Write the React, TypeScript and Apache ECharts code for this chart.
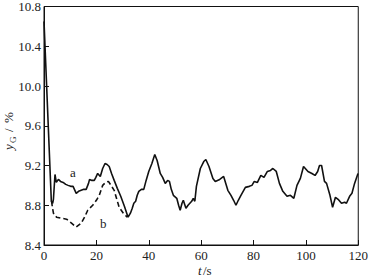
import React, { useEffect, useRef } from "react";
import * as echarts from "echarts";

const xTicks = [0, 20, 40, 60, 80, 100, 120];
const yTicks = [8.4, 8.8, 9.2, 9.6, 10.0, 10.4, 10.8];

const aTime = [0, 2.8, 3.3, 3.6, 4.2, 4.7, 5.5, 6.3, 7.3, 8.3, 9.2, 10.2, 11.1, 12.3, 13.2, 14.2, 15.2, 16.1, 17.0, 17.4, 18.3, 19.2, 19.8, 20.5, 21.5, 22.4, 23.3, 24.1, 24.9, 25.8, 26.8, 28, 29.3, 30.7, 32.1, 33, 33.7, 34.3, 35, 35.6, 36.2, 37.2, 38.1, 39, 40, 41.2, 42.3, 43.2, 44.4, 45.3, 46.3, 47.2, 47.9, 48.6, 49.4, 50.7, 51.4, 52, 52.7, 53.2, 54.2, 55, 55.7, 56.4, 57, 57.6, 58.2, 59.7, 61, 61.8, 63, 64.5, 65.4, 67.1, 68.6, 70.2, 71.4, 72.4, 73.3, 74.2, 75.2, 76.9, 78.4, 79.4, 80.3, 81.5, 82.8, 84, 85.3, 86.5, 87.4, 88.7, 89.9, 91.2, 92.8, 94.1, 95.4, 96.6, 97.9, 99.1, 100.8, 102.3, 103.5, 104.5, 105.2, 106, 107.1, 107.9, 109.2, 110.2, 111.3, 112.3, 113.6, 114.8, 115.5, 116.7, 117.6, 118.6, 119.9];
const aValue = [10.65, 8.84, 8.82, 8.86, 9.11, 9.03, 9.06, 9.04, 9.03, 9.01, 9.0, 8.99, 8.99, 8.92, 8.94, 8.95, 8.96, 8.96, 9.02, 9.06, 9.05, 9.05, 9.08, 9.12, 9.09, 9.17, 9.22, 9.21, 9.19, 9.12, 9.05, 8.97, 8.89, 8.79, 8.68, 8.72, 8.77, 8.82, 8.84, 8.9, 8.94, 8.96, 8.96, 9.05, 9.14, 9.22, 9.31, 9.25, 9.12, 9.08, 9.02, 9.05, 9.04, 8.96, 8.9, 8.87, 8.8, 8.75, 8.82, 8.85, 8.77, 8.8, 8.82, 8.84, 8.87, 8.84, 8.99, 9.17, 9.24, 9.26, 9.19, 9.07, 9.04, 9.06, 9.09, 8.95, 8.9, 8.85, 8.8, 8.85, 8.9, 8.98, 8.99, 9.0, 9.04, 9.03, 9.1, 9.08, 9.14, 9.15, 9.17, 9.14, 9.02, 8.94, 8.89, 8.9, 8.87, 9.0, 9.07, 9.19, 9.14, 9.12, 9.1, 9.14, 9.2, 9.2, 9.04, 9.02, 8.9, 8.78, 8.88, 8.86, 8.82, 8.83, 8.82, 8.89, 8.92, 9.02, 9.12];

const bTime = [2.9, 3.2, 3.6, 4.8, 6.5, 8.6, 10.5, 12.3, 14.2, 15.5, 16.7, 18.6, 20, 21.1, 22.4, 23.5, 24.6, 25.6, 26.8, 27.8, 28.7, 30.3, 31.8];
const bValue = [8.84, 8.78, 8.72, 8.68, 8.67, 8.66, 8.62, 8.58, 8.62, 8.68, 8.75, 8.8, 8.85, 8.9, 9.0, 9.03, 9.04, 9.0, 8.95, 8.86, 8.78, 8.72, 8.68];

const FONT = "Liberation Serif";
const TXT = "#222222";

const txt = (text: string, x: number, y: number, size = 13, italic = false) => ({
  type: "text",
  x,
  y,
  style: {
    text,
    fontFamily: FONT,
    fontSize: size,
    fontStyle: italic ? "italic" : "normal",
    fill: TXT,
    verticalAlign: "middle",
    align: "left",
  },
});

export default function App() {
  const ref = useRef<HTMLDivElement>(null);
  useEffect(() => {
    if (!ref.current) return;
    const chart = echarts.init(ref.current, undefined, { renderer: "svg" });
    const aData = aTime.map((t, i) => [t, aValue[i]]);
    const bData = bTime.map((t, i) => [t, bValue[i]]);
    chart.setOption({
      animation: false,
      backgroundColor: "#fff",
      grid: { left: 44, top: 6, right: 9, bottom: 31, show: true, borderColor: "#111", borderWidth: 1, backgroundColor: "transparent" },
      xAxis: {
        type: "value",
        min: xTicks[0],
        max: xTicks[xTicks.length - 1],
        interval: 20,
        axisLine: { lineStyle: { color: "#111", width: 1 } },
        axisTick: { inside: true, length: 5, lineStyle: { color: "#111" } },
        splitLine: { show: false },
        axisLabel: { color: TXT, fontFamily: FONT, fontSize: 13, margin: 4 },
      },
      yAxis: {
        type: "value",
        min: yTicks[0],
        max: yTicks[yTicks.length - 1],
        interval: 0.4,
        axisLine: { show: true, lineStyle: { color: "#111", width: 1 } },
        axisTick: { show: true, inside: true, length: 5, lineStyle: { color: "#111" } },
        splitLine: { show: false },
        axisLabel: { color: TXT, fontFamily: FONT, fontSize: 13, margin: 3, formatter: (v: number) => v.toFixed(1) },
      },
      series: [
        {
          type: "line",
          data: aData,
          showSymbol: false,
          lineStyle: { color: "#111", width: 1.6 },
          z: 3,
        },
        {
          type: "line",
          data: bData,
          showSymbol: false,
          lineStyle: { color: "#111", width: 1.6, type: [5, 3] },
          z: 2,
        },
      ],
      graphic: [
        txt("a", 70, 172),
        txt("b", 100, 223),
        {
          type: "group",
          x: 8,
          y: 150,
          rotation: Math.PI / 2,
          children: [
            txt("y", 0, 0, 13, true),
            txt("G", 7, 5, 9),
            txt("/", 18, 0),
            txt("%", 27, 0),
          ],
        },
        txt("t", 198, 270, 13, true),
        txt("/s", 203, 270),
      ],
    });
    return () => chart.dispose();
  }, []);
  return <div ref={ref} style={{ position: "fixed", left: 0, top: 0, width: 371, height: 276 }} />;
}
